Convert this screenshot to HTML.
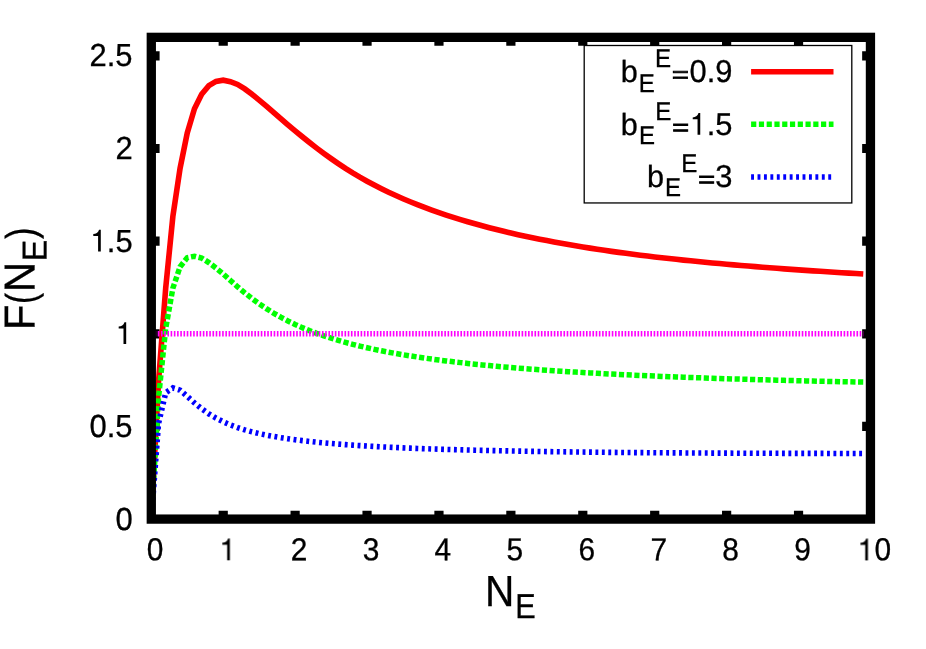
<!DOCTYPE html>
<html><head><meta charset="utf-8"><title>F(N_E)</title>
<style>
html,body{margin:0;padding:0;background:#fff;}
body{width:926px;height:649px;overflow:hidden;}
svg{display:block;}
text{font-family:"Liberation Sans",sans-serif;fill:#000;stroke:#000;stroke-width:0.3px;text-rendering:geometricPrecision;}
.h{fill-opacity:0;stroke-opacity:0;}
</style></head><body>
<svg width="926" height="649" viewBox="0 0 926 649">
<defs><path id="one" d="M259 0V505H102V568C190 577 258 606 291 709H347V0Z"/></defs>
<rect x="0" y="0" width="926" height="649" fill="#fff"/>
<path d="M223.22 519.10V510.80M223.22 37.35V45.65M295.13 519.10V510.80M295.13 37.35V45.65M367.05 519.10V510.80M367.05 37.35V45.65M438.96 519.10V510.80M438.96 37.35V45.65M510.88 519.10V510.80M510.88 37.35V45.65M582.79 519.10V510.80M582.79 37.35V45.65M654.71 519.10V510.80M654.71 37.35V45.65M726.62 519.10V510.80M726.62 37.35V45.65M798.54 519.10V510.80M798.54 37.35V45.65M151.30 426.45H159.60M870.45 426.45H862.15M151.30 333.80H159.60M870.45 333.80H862.15M151.30 241.15H159.60M870.45 241.15H862.15M151.30 148.50H159.60M870.45 148.50H862.15M151.30 55.85H159.60M870.45 55.85H862.15" fill="none" stroke="#000" stroke-width="9.20"/>
<g fill="none" stroke-linejoin="miter" stroke-linecap="butt">
<polyline points="151.30,519.10 158.49,382.10 165.68,288.27 172.87,216.35 180.07,168.33 187.26,132.93 194.45,108.66 201.64,94.21 208.83,85.68 216.02,81.42 223.22,80.20 230.41,81.68 237.60,84.47 244.79,88.94 251.98,94.25 259.17,100.07 266.36,106.14 273.56,112.35 280.75,118.59 287.94,124.77 295.13,130.85 302.32,136.78 309.51,142.53 316.70,148.10 323.90,153.46 331.09,158.63 338.28,163.61 345.47,168.38 352.66,172.89 359.85,177.17 367.05,181.23 374.24,185.08 381.43,188.74 388.62,192.22 395.81,195.54 403.00,198.72 410.19,201.76 417.39,204.67 424.58,207.44 431.77,210.08 438.96,212.61 446.15,215.03 453.34,217.35 460.53,219.58 467.73,221.73 474.92,223.81 482.11,225.80 489.30,227.72 496.49,229.55 503.68,231.32 510.88,233.02 518.07,234.65 525.26,236.22 532.45,237.74 539.64,239.20 546.83,240.61 554.02,241.97 561.22,243.28 568.41,244.56 575.60,245.79 582.79,246.98 589.98,248.13 597.17,249.25 604.36,250.32 611.56,251.36 618.75,252.37 625.94,253.34 633.13,254.28 640.32,255.19 647.51,256.08 654.71,256.93 661.90,257.76 669.09,258.56 676.28,259.34 683.47,260.10 690.66,260.83 697.85,261.55 705.05,262.24 712.24,262.92 719.43,263.58 726.62,264.22 733.81,264.85 741.00,265.47 748.19,266.06 755.39,266.65 762.58,267.21 769.77,267.77 776.96,268.31 784.15,268.84 791.34,269.35 798.54,269.86 805.73,270.35 812.92,270.84 820.11,271.31 827.30,271.77 834.49,272.23 841.68,272.67 848.88,273.11 856.07,273.54 863.26,273.96" stroke="#ff0000" stroke-width="5.6"/>
<polyline points="151.30,519.10 158.49,398.26 165.68,328.53 172.87,288.20 180.07,266.79 187.26,257.64 194.45,256.25 201.64,258.01 208.83,262.55 216.02,268.02 223.22,273.96 230.41,280.46 237.60,286.80 244.79,292.84 251.98,298.50 259.17,303.76 266.36,308.61 273.56,313.08 280.75,317.19 287.94,320.97 295.13,324.45 302.32,327.65 309.51,330.60 316.70,333.34 323.90,335.86 331.09,338.21 338.28,340.39 345.47,342.43 352.66,344.33 359.85,346.10 367.05,347.77 374.24,349.33 381.43,350.80 388.62,352.19 395.81,353.50 403.00,354.73 410.19,355.90 417.39,357.01 424.58,358.07 431.77,359.07 438.96,360.02 446.15,360.93 453.34,361.79 460.53,362.62 467.73,363.41 474.92,364.17 482.11,364.89 489.30,365.58 496.49,366.25 503.68,366.89 510.88,367.50 518.07,368.09 525.26,368.66 532.45,369.20 539.64,369.73 546.83,370.24 554.02,370.72 561.22,371.20 568.41,371.65 575.60,372.09 582.79,372.52 589.98,372.93 597.17,373.32 604.36,373.71 611.56,374.08 618.75,374.44 625.94,374.79 633.13,375.13 640.32,375.45 647.51,375.77 654.71,376.08 661.90,376.38 669.09,376.67 676.28,376.95 683.47,377.23 690.66,377.49 697.85,377.75 705.05,378.00 712.24,378.25 719.43,378.48 726.62,378.71 733.81,378.94 741.00,379.16 748.19,379.37 755.39,379.58 762.58,379.78 769.77,379.98 776.96,380.17 784.15,380.35 791.34,380.53 798.54,380.71 805.73,380.88 812.92,381.05 820.11,381.22 827.30,381.38 834.49,381.53 841.68,381.68 848.88,381.83 856.07,381.98 863.26,382.12" stroke="#00ff00" stroke-width="5.5" stroke-dasharray="5.2 2.518"/>
<polyline points="151.30,519.10 158.49,423.73 165.68,392.70 172.87,387.91 180.07,390.20 187.26,396.38 194.45,402.85 201.64,408.75 208.83,413.84 216.02,418.16 223.22,421.81 230.41,424.91 237.60,427.56 244.79,429.85 251.98,431.83 259.17,433.56 266.36,435.09 273.56,436.45 280.75,437.66 287.94,438.75 295.13,439.74 302.32,440.63 309.51,441.45 316.70,442.20 323.90,442.88 331.09,443.52 338.28,444.10 345.47,444.64 352.66,445.14 359.85,445.61 367.05,446.05 374.24,446.46 381.43,446.84 388.62,447.20 395.81,447.53 403.00,447.85 410.19,448.15 417.39,448.43 424.58,448.69 431.77,448.95 438.96,449.18 446.15,449.41 453.34,449.62 460.53,449.82 467.73,450.01 474.92,450.19 482.11,450.37 489.30,450.53 496.49,450.68 503.68,450.83 510.88,450.97 518.07,451.11 525.26,451.24 532.45,451.36 539.64,451.47 546.83,451.58 554.02,451.69 561.22,451.79 568.41,451.89 575.60,451.98 582.79,452.06 589.98,452.15 597.17,452.23 604.36,452.30 611.56,452.37 618.75,452.44 625.94,452.51 633.13,452.57 640.32,452.63 647.51,452.68 654.71,452.74 661.90,452.79 669.09,452.84 676.28,452.88 683.47,452.93 690.66,452.97 697.85,453.01 705.05,453.05 712.24,453.08 719.43,453.12 726.62,453.15 733.81,453.18 741.00,453.20 748.19,453.23 755.39,453.26 762.58,453.28 769.77,453.30 776.96,453.32 784.15,453.34 791.34,453.36 798.54,453.37 805.73,453.39 812.92,453.40 820.11,453.41 827.30,453.43 834.49,453.44 841.68,453.45 848.88,453.45 856.07,453.46 863.26,453.48" stroke="#0000ff" stroke-width="5.6" stroke-dasharray="2.9 3.5325"/>
<polyline points="151.30,333.80 863.26,333.80" stroke="#ff00ff" stroke-width="5.4" stroke-dasharray="1.6 1.62"/>
</g>
<g fill="none" stroke="#000">
<rect x="151.30" y="37.35" width="719.15" height="481.75" stroke-width="9.30"/>
<rect x="584.2" y="45.5" width="267.6" height="157.45" stroke-width="1.3" stroke="#000"/>
</g>
<g fill="none" stroke-linecap="butt">
<path d="M751.1 71.7H833.5" stroke="#ff0000" stroke-width="5.4"/>
<path d="M751.1 124.3H833.5" stroke="#00ff00" stroke-width="5.5" stroke-dasharray="5.2 2.57"/>
<path d="M751.1 177.0H833.5" stroke="#0000ff" stroke-width="5.5" stroke-dasharray="2.9 3.53"/>
</g>
<g style="filter:grayscale(1)">
<text transform="translate(155.15 560.20) rotate(0.03) scale(0.975 1.035)" font-size="30.65px" text-anchor="middle">0</text>
<text transform="translate(227.09 560.20) rotate(0.03) scale(0.975 1.035)" font-size="30.65px" text-anchor="middle"><tspan class="h">1</tspan></text>
<text transform="translate(299.03 560.20) rotate(0.03) scale(0.975 1.035)" font-size="30.65px" text-anchor="middle">2</text>
<text transform="translate(370.97 560.20) rotate(0.03) scale(0.975 1.035)" font-size="30.65px" text-anchor="middle">3</text>
<text transform="translate(442.91 560.20) rotate(0.03) scale(0.975 1.035)" font-size="30.65px" text-anchor="middle">4</text>
<text transform="translate(514.85 560.20) rotate(0.03) scale(0.975 1.035)" font-size="30.65px" text-anchor="middle">5</text>
<text transform="translate(586.79 560.20) rotate(0.03) scale(0.975 1.035)" font-size="30.65px" text-anchor="middle">6</text>
<text transform="translate(658.73 560.20) rotate(0.03) scale(0.975 1.035)" font-size="30.65px" text-anchor="middle">7</text>
<text transform="translate(730.67 560.20) rotate(0.03) scale(0.975 1.035)" font-size="30.65px" text-anchor="middle">8</text>
<text transform="translate(802.61 560.20) rotate(0.03) scale(0.975 1.035)" font-size="30.65px" text-anchor="middle">9</text>
<text transform="translate(874.55 560.20) rotate(0.03) scale(0.975 1.035)" font-size="30.65px" text-anchor="middle"><tspan class="h">1</tspan>0</text>
<text transform="translate(132.60 529.60) scale(1.01 1.04)" font-size="30.65px" text-anchor="end">0</text>
<text transform="translate(132.60 436.95) scale(1.01 1.04)" font-size="30.65px" text-anchor="end">0.5</text>
<text transform="translate(132.60 344.30) scale(1.01 1.04)" font-size="30.65px" text-anchor="end"><tspan class="h">1</tspan></text>
<text transform="translate(132.60 251.65) scale(1.01 1.04)" font-size="30.65px" text-anchor="end"><tspan class="h">1</tspan>.5</text>
<text transform="translate(132.60 159.00) scale(1.01 1.04)" font-size="30.65px" text-anchor="end">2</text>
<text transform="translate(132.60 66.35) scale(1.01 1.04)" font-size="30.65px" text-anchor="end">2.5</text>
</g>
<g style="filter:grayscale(1)">
<text transform="translate(689.48 82.35) scale(1.008 1.03)" font-size="30.65px">0.9</text>
<text style="stroke-width:1.2px" transform="translate(671.98 82.55) rotate(0.03) scale(0.938 0.757)" font-size="30.65px">=</text>
<text transform="translate(655.03 67.05) scale(0.985 1.05)" font-size="24.50px">E</text>
<text transform="translate(638.68 91.60) scale(0.98 1.05)" font-size="24.50px">E</text>
<text transform="translate(620.64 81.90)" font-size="30.65px">b</text>
<text transform="translate(689.48 135.05) scale(1.008 1.03)" font-size="30.65px"><tspan class="h">1</tspan>.5</text>
<text style="stroke-width:1.2px" transform="translate(672.18 135.25) rotate(0.03) scale(0.938 0.757)" font-size="30.65px">=</text>
<text transform="translate(655.23 119.75) scale(0.985 1.05)" font-size="24.50px">E</text>
<text transform="translate(638.88 144.30) scale(0.98 1.05)" font-size="24.50px">E</text>
<text transform="translate(620.84 134.60)" font-size="30.65px">b</text>
<text transform="translate(715.23 187.15) scale(1.008 1.03)" font-size="30.65px">3</text>
<text style="stroke-width:1.2px" transform="translate(698.23 187.35) rotate(0.03) scale(0.938 0.757)" font-size="30.65px">=</text>
<text transform="translate(681.28 171.85) scale(0.985 1.05)" font-size="24.50px">E</text>
<text transform="translate(664.93 196.40) scale(0.98 1.05)" font-size="24.50px">E</text>
<text transform="translate(646.89 186.70)" font-size="30.65px">b</text>
</g>
<g style="filter:grayscale(1)">
<text transform="translate(485.10 605.70) scale(0.98 1.051)" font-size="41.40px">N</text>
<text transform="translate(515.35 618.20) scale(0.927 1.042)" font-size="33.10px">E</text>
<text transform="translate(34.45 330.35) rotate(-89.97) scale(1.017 1.045)" font-size="41.40px">F</text>
<text transform="translate(35.05 303.90) rotate(-89.97) scale(0.8 1.01)" font-size="41.40px">(</text>
<text transform="translate(34.45 292.20) rotate(-89.97) scale(1.02 1.045)" font-size="41.40px">N</text>
<text transform="translate(46.45 261.30) rotate(-89.97) scale(0.97 1.045)" font-size="33.10px">E</text>
<text transform="translate(35.05 239.00) rotate(-89.97) scale(0.84 1.01)" font-size="41.40px">)</text>
</g>
<g fill="#000">
<use href="#one" transform="translate(219.20 560.30) scale(0.03067 -0.03067)"/>
<use href="#one" transform="translate(857.30 560.40) scale(0.03067 -0.03067)"/>
<use href="#one" transform="translate(115.55 344.00) scale(0.03067 -0.03067)"/>
<use href="#one" transform="translate(90.15 251.45) scale(0.03067 -0.03067)"/>
<use href="#one" transform="translate(689.60 134.80) scale(0.03067 -0.03067)"/>
</g>
</svg>
</body></html>
